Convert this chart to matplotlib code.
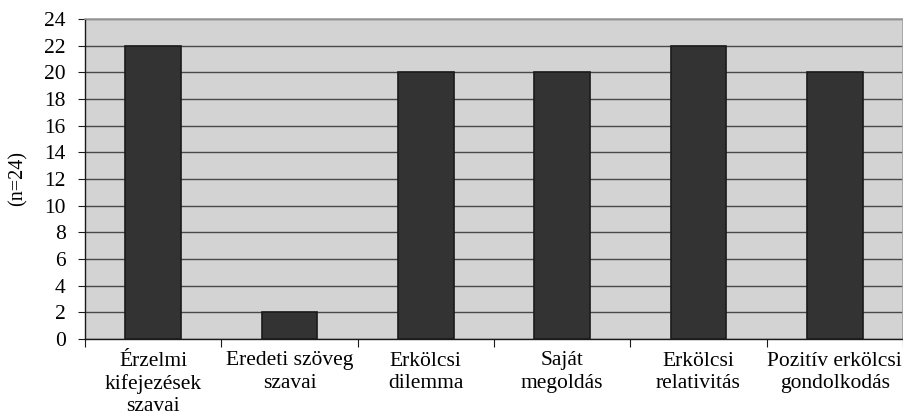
import matplotlib

matplotlib.use("Agg")

import matplotlib.pyplot as plt
import numpy as np

categories = [
    "Érzelmi\nkifejezések\nszavai",
    "Eredeti szöveg\nszavai",
    "Erkölcsi\ndilemma",
    "Saját\nmegoldás",
    "Erkölcsi\nrelativitás",
    "Pozitív erkölcsi\ngondolkodás",
]
counts = [22, 2, 20, 20, 22, 20]
y_ticks = list(range(0, 25, 2))

plt.rcParams["font.family"] = ["Liberation Serif", "DejaVu Serif"]

fig = plt.figure(figsize=(9.04, 4.18), dpi=100)
ax = fig.add_axes([85 / 904, 79 / 418, 818 / 904, 320 / 418])

x = np.arange(len(categories))
ax.set_facecolor("#d3d3d3")
ax.bar(x, counts, width=0.41, color="#333333", edgecolor="#1a1a1a", linewidth=1.2, zorder=3)

ax.set_xlim(-0.5, len(categories) - 0.5)
ax.set_ylim(0, 24)
ax.set_yticks(y_ticks)
ax.set_yticklabels([str(v) for v in y_ticks], fontsize=15.5)
ax.yaxis.grid(True, color="#484848", linewidth=1.0, zorder=1)

# tick marks sit on category boundaries, labels on category centres
ax.set_xticks(np.arange(len(categories) + 1) - 0.5)
ax.set_xticklabels([])
ax.set_xticks(x, minor=True)
ax.set_xticklabels(categories, minor=True, fontsize=15.5, linespacing=1.22)
ax.tick_params(axis="x", which="major", length=6, color="#1a1a1a", direction="out")
ax.tick_params(axis="x", which="minor", length=0, pad=9)
ax.tick_params(axis="y", length=5, color="#1a1a1a", pad=9)

for side in ("top", "right"):
    ax.spines[side].set_color("#a0a0a0")
    ax.spines[side].set_linewidth(1.2)
for side in ("left", "bottom"):
    ax.spines[side].set_color("#1a1a1a")
    ax.spines[side].set_linewidth(1.0)

ax.set_ylabel("(n=24)", fontsize=14.5, labelpad=12)

fig.savefig("out.png", dpi=100)
